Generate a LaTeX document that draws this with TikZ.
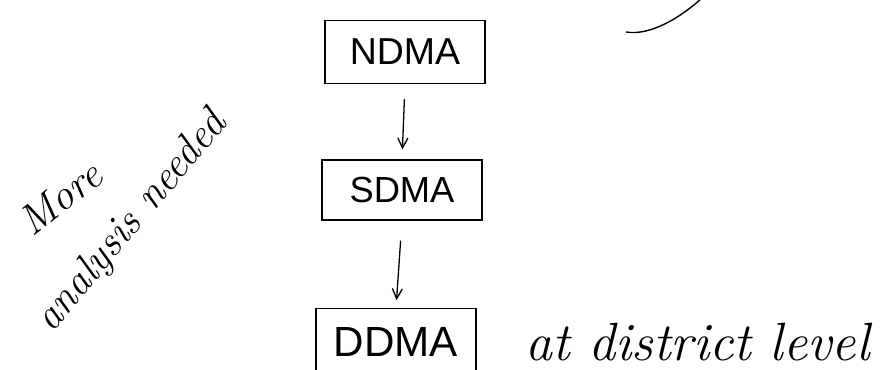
\documentclass[tikz,border=0pt]{standalone}
\usepackage{fontspec}
\setsansfont{Liberation Sans}
\usetikzlibrary{arrows.meta,positioning}

\begin{document}
\begin{tikzpicture}[x=0.03cm, y=-0.03cm,
  authbox/.style={rectangle, draw, line width=1pt, minimum width=4.8cm, minimum height=1.9cm, inner sep=0pt, align=center},
  arr/.style={-{Straight Barb[length=3mm, width=3mm]}, line width=1.1pt},
  hand/.style={font=\itshape, inner sep=0pt}
]
  \useasboundingbox (0,0) rectangle (888,370);
  % hierarchy of authorities
  \node[authbox, font=\sffamily\fontsize{32}{36}\selectfont] (ndma) at (405,52) {NDMA};
  \node[authbox, minimum height=1.8cm, font=\sffamily\fontsize{31}{36}\selectfont] (sdma) at (402,190) {SDMA};
  \node[authbox, minimum height=2.0cm, font=\sffamily\fontsize{36}{40}\selectfont] (ddma) at (396,342) {DDMA};
  \draw[arr, shorten <=0.45cm, shorten >=0.3cm] (ndma.south) -- (sdma.north);
  \draw[arr, shorten <=0.6cm, shorten >=0.24cm] (sdma.south) -- (ddma.north);
  % notes
  \node[hand, anchor=base west, font=\itshape\fontsize{46}{50}\selectfont] (lvl) at (525,360) {at district level};
  \node[hand, rotate=38, font=\itshape\fontsize{36}{40}\selectfont] (more) at (60,198) {More};
  \node[hand, rotate=50, font=\itshape\fontsize{36}{40}\selectfont] (need) at (132,222) {analysis needed};
  \draw[line width=1.2pt] (626,32) .. controls (650,36) and (680,18) .. (702,-2);
\end{tikzpicture}
\end{document}
